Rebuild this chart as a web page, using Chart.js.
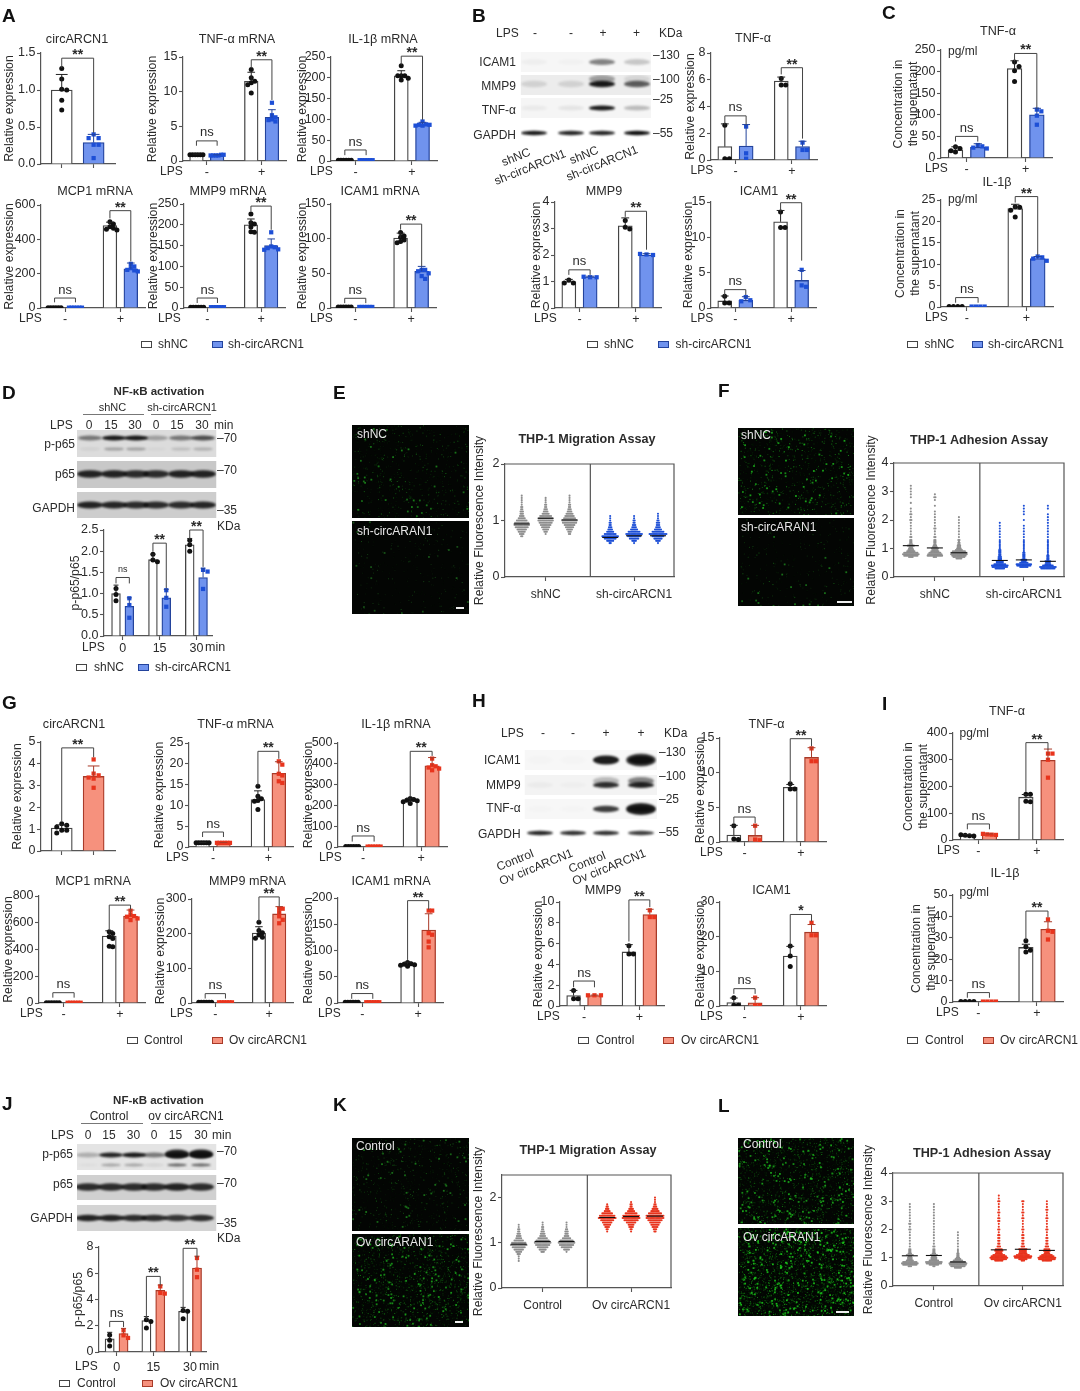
<!DOCTYPE html>
<html><head><meta charset="utf-8">
<style>
html,body{margin:0;padding:0;background:#fff;width:1080px;height:1391px;overflow:hidden}
#page{position:relative;width:1080px;height:1391px;overflow:hidden;font-family:"Liberation Sans",Arial,sans-serif;color:#2b2b2b;filter:blur(.4px)}
#page canvas{position:absolute}
.t{position:absolute;white-space:nowrap;line-height:1}
.box{position:absolute;box-sizing:border-box;border-width:1.3px;border-style:solid}
.rule{position:absolute;height:1px;background:#777}
</style>
<script src="https://cdn.jsdelivr.net/npm/chart.js@4/dist/chart.umd.min.js"></script>
</head><body><div id="page"><canvas id="bg" width="1080" height="1391" style="left:0;top:0"></canvas></div>
<script>
// ---------- series names ----------
const seriesKnock=['shNC','sh-circARCN1'];
const seriesOver=['Control','Ov circARCN1'];
const lpsSigns=['-','+'];
const timeLabels=['0','15','30'];

// ---------- values: means, error-bar tops, points, brackets ----------
// bracket = [bar a, bar b, top value, left leg end value, right leg end value, text]
// Panel A
const a1Means=[1.0,.29], a1Tops=[1.21,.40], a1Pts=[[1.29,1.15,1.01,1.0,.86,.73],[.40,.35,.35,.26,.26,.08]], a1Br=[[0,1,1.43,1.30,.42,'**']];
const a2Means=[.9,.8,11.5,6.3], a2Tops=[1,.9,12.8,7.4], a2Pts=[[.9,.9,.9,.9,.9,.9],[.8,.8,.8,.8,.9,.9],[13.2,12,11.5,11.3,11,9.8],[8.4,6.6,6.3,6,5.9,5.7]], a2Br=[[0,1,2.9,2.2,2.2,'ns'],[2,3,14.6,13.4,8.8,'**']];
const a3Means=[2,2,205,89], a3Tops=[2,2,217,93], a3Pts=[[2,2,2,2,2,2],[2,2,2,2,2,2],[229,205,205,205,199,195],[95,88,87,87,85,85]], a3Br=[[0,1,26.5,14,14,'ns'],[2,3,252,232,99,'**']];
const a4Means=[2,2,480,228], a4Tops=[2,2,500,262], a4Pts=[[2,2,2,2,2,2],[2,2,2,2,2,2],[503,490,474,465,459,455],[257,242,232,222,219,213]], a4Br=[[0,1,58,33,33,'ns'],[2,3,567,522,271,'**']];
const a5Means=[2,2,200,150], a5Tops=[2,2,214,166], a5Pts=[[2,2,2,2,2,2],[2,2,2,2,2,2],[226,205,202,195,183,182],[182,148,146,144,141,140]], a5Br=[[0,1,24,12,12,'ns'],[2,3,245,232,188,'**']];
const a6Means=[1.5,1.5,101,53], a6Tops=[1.5,1.5,108,60], a6Pts=[[1.5,1.5,1.5,1.5,1.5,1.5],[1.5,1.5,1.5,1.5,1.5,1.5],[109,104,102,98,96,94],[55,55,53,50,46,42]], a6Br=[[0,1,14,7,7,'ns'],[2,3,121,113,60,'**']];
// Panel B
const b1Means=[1,1.05,5.9,1], b1Tops=[2.7,2.65,6.2,1.4], b1Pts=[[2.6,.1,.1],[2.5,.5,.1],[6.1,5.6,5.6],[1.3,.75,.75]], b1Br=[[0,1,3.3,2.65,2.65,'ns'],[2,3,6.9,6.4,1.6,'**']];
const b2Means=[1,1.18,3.1,2], b2Tops=[1.08,1.2,3.4,2.05], b2Pts=[[1.06,.94,.94],[1.18,1.16,1.16],[3.3,3.05,2.98],[2.04,2.02,2]], b2Br=[[0,1,1.44,1.25,1.25,'ns'],[2,3,3.65,3.44,2.2,'**']];
const b3Means=[1,1.1,12.2,3.9], b3Tops=[1.7,1.6,13.8,5.3], b3Pts=[[1.65,.7,.7],[1.55,1.1,.95],[13.6,11.4,11.4],[5.4,3.2,3]], b3Br=[[0,1,2.6,1.8,1.8,'ns'],[2,3,14.9,13.8,6.7,'**']];
// Panel C
const c1Means=[19,25,207,100], c1Tops=[26,33,225,115], c1Pts=[[26,22,17,14],[30,27,24,22],[222,212,202,177],[112,108,98,77]], c1Br=[[0,1,50,38,38,'ns'],[2,3,242,225,115,'**']];
const c2Means=[.1,.1,23,11.3], c2Tops=[.1,.1,24,11.8], c2Pts=[[.1,.1,.1,.1],[.1,.1,.1,.1],[23.4,23.3,22.6,21],[11.8,11.6,11.3,10.8]], c2Br=[[0,1,2.2,1,1,'ns'],[2,3,25.8,24.4,12.1,'**']];
// Panel D
const dMeans=[1,.7,1.8,.9,2.15,1.38], dTops=[1.2,.9,1.93,1.1,2.3,1.6], dPts=[[1.12,.98,.83],[.89,.73,.43],[1.93,1.79,1.75],[1.08,.9,.69],[2.26,2.15,2],[1.56,1.52,1.11]], dBr=[[0,1,1.38,1.24,1.24,'ns'],[2,3,2.19,1.99,1.12,'**'],[4,5,2.5,2.3,1.63,'**']];
// Panel G
const g1Means=[1.05,3.42], g1Tops=[1.2,3.9], g1Pts=[[1.25,1.18,1.1,.95,.95,.82],[4.2,3.55,3.47,3.37,3.32,2.9]], g1Br=[[0,1,4.73,1.35,4.3,'**']];
const g2Means=[1,1,11.4,17.7], g2Tops=[1.1,1.1,13.5,20.5], g2Pts=[[1,1,1,1,1,1],[1,1,1,1,1,1],[14.6,12.2,11.6,11.2,11,9],[20.6,19.8,17.6,17.2,15.8,15.4]], g2Br=[[0,1,3.6,2.4,2.4,'ns'],[2,3,23,14.8,21.2,'**']];
const g3Means=[2,2,224,390], g3Tops=[2,2,235,430], g3Pts=[[2,2,2,2,2,2],[2,2,2,2,2,2],[233,228,225,222,217,209],[425,393,388,382,377,369]], g3Br=[[0,1,53,26,26,'ns'],[2,3,460,241,438,'**']];
const g4Means=[2,2,500,650], g4Tops=[2,2,540,695], g4Pts=[[2,2,2,2,2,2],[2,2,2,2,2,2],[532,520,495,482,425,420],[690,657,650,645,632,620]], g4Br=[[0,1,77,40,40,'ns'],[2,3,732,550,700,'**']];
const g5Means=[2,2,202,257], g5Tops=[2,2,220,278], g5Pts=[[2,2,2,2,2,2],[2,2,2,2,2,2],[233,209,203,196,190,187],[272,272,261,250,240,230]], g5Br=[[0,1,27,13,13,'ns'],[2,3,306,235,279,'**']];
const g6Means=[1.5,1.5,74,139], g6Tops=[1.5,1.5,78,170], g6Pts=[[1.5,1.5,1.5,1.5,1.5,1.5],[1.5,1.5,1.5,1.5,1.5,1.5],[77,75,74,73,72,70],[176,176,133,130,117,106]], g6Br=[[0,1,18,8,8,'ns'],[2,3,195,82,178,'**']];
// Panel H
const h1Means=[1,.95,7.9,12.2], h1Tops=[2.4,2.4,8.3,13.6], h1Pts=[[2.35,.45,.35],[2.35,.35,.25],[8.4,7.65,7.65],[13.5,11.65,11.65]], h1Br=[[0,1,3.6,2.7,2.7,'ns'],[2,3,14.9,8.5,13.8,'**']];
const h2Means=[1,1,5.2,8.8], h2Tops=[1.5,1.05,5.9,9.3], h2Pts=[[1.5,.7,.7],[1.03,1.03,1.03],[5.8,5,5],[9.2,8.55,8.55]], h2Br=[[0,1,2.4,1.8,1.8,'ns'],[2,3,10.2,6.2,9.5,'**']];
const h3Means=[1,.9,14.4,21.3], h3Tops=[2.3,2.4,17.2,23.5], h3Pts=[[2.4,.2,.2],[2.4,.2,.2],[17.3,14.4,11.4],[24,20.4,20.4]], h3Br=[[0,1,5,3.5,3.5,'ns'],[2,3,26.4,17.7,24.4,'*']];
// Panel I
const i1Means=[17,20,160,298], i1Tops=[20,23,170,340], i1Pts=[[20,18,16,15],[23,21,20,19],[171,171,145,143],[323,323,300,233]], i1Br=[[0,1,60,40,40,'ns'],[2,3,364,180,338,'**']];
const i2Means=[.2,.2,25.5,34], i2Tops=[.2,.2,27,37.5], i2Pts=[[.2,.2,.2,.2],[.2,.2,.2,.2],[28.6,25.8,24.2,23.4],[38.6,33.3,32.8,29.2]], i2Br=[[0,1,4.4,2,2,'ns'],[2,3,42.5,29,39.5,'**']];
// Panel J
const jMeans=[1,1.4,2.4,4.7,3.1,6.4], jTops=[1.5,1.8,2.7,5.1,3.4,7.3], jPts=[[1.3,.9,.45],[1.65,1.27,1.07],[2.46,2.33,1.83],[5,4.5,4.45],[3.17,3.1,2.54],[7.16,6.27,5.7]], jBr=[[0,1,2.33,1.9,1.9,'ns'],[2,3,5.76,2.54,5.1,'**'],[4,5,7.9,3.3,7.2,'**']];

// ---------- dot plots: value level and how many dots sit on it, read by eye ----------
const eLevels=[.56,.60,.64,.68,.72,.76,.80,.84,.88,.92,.96,1.00,1.04,1.08,1.12,1.16,1.20,1.24,1.28,1.32,1.36,1.40,1.44];
const eCtl1=[0,0,0,0,2,4,6,8,11,13,12,9,6,4,3,3,2,2,1,1,1,1,1];
const eCtl2=[0,0,0,0,0,1,3,5,7,9,11,13,12,10,6,4,3,2,2,1,1,1,0];
const eCtl3=[0,0,0,0,0,2,3,5,7,9,12,13,10,8,6,4,3,2,2,1,1,1,1];
const eSh1=[0,2,6,10,14,10,6,4,3,2,2,1,1,1];
const eSh2=[0,1,4,8,11,14,10,6,4,3,2,2,1,1];
const eSh3=[0,1,4,7,10,15,10,6,4,3,3,2,1,1,1];
const eMeanLines=[.94,1.04,1.01,.70,.73,.73];

const wideLevels=[.30,.35,.40,.45,.50,.55,.60,.65,.70,.75,.80,.85,.90,.95,1.00,1.05,1.10,1.15,1.20,1.25,1.30,1.4,1.5,1.6,1.7,1.8,1.9,2.0,2.1,2.2,2.3,2.4,2.5,2.6,2.7,2.8,2.9,3.0,3.1,3.2];
const fCtl1=[0,0,0,0,0,0,0,0,4,12,14,12,7,5,4,3,6,3,2,2,2,2,1,1,1,1,1,2,1,2,1,1,0,1,0,1,1,1,1,1];
const fCtl2=[0,0,0,0,0,0,0,0,3,13,12,10,7,5,6,4,3,2,2,2,2,2,1,1,2,1,1,1,1,1,1,0,1,0,1,2,1];
const fCtl3=[0,0,0,0,0,0,0,5,10,12,14,14,11,6,4,3,3,2,2,1,2,1,1,1,1,1,1,1,1];
const fSh1=[8,13,14,10,6,6,3,3,3,2,2,2,2,2,1,1,1,1,1,1,1,1,1,1,1,1,1];
const fSh2=[0,7,12,13,7,4,5,2,2,2,2,2,1,1,1,1,1,1,1,1,1,1,1,1,1,1,0,1,0,1,1,1,1];
const fSh3=[12,14,9,5,4,5,2,2,2,2,1,1,1,1,1,1,1,1,1,1,1,1,1,1,1,1,1,1,1,1,0,1,1];
const fMeanLines=[1.1,1.02,.85,.58,.6,.55];

const kLevels=[.60,.65,.70,.75,.80,.85,.90,.95,1.00,1.05,1.10,1.15,1.20,1.25,1.30,1.35,1.40,1.45,1.50,1.55,1.60,1.65,1.70,1.75,1.80,1.85,1.90,1.95,2.00];
const kCtl1=[1,1,1,3,5,8,11,14,12,8,5,4,3,2,2,1,1];
const kCtl2=[0,0,0,0,3,6,9,12,14,11,8,5,4,3,2,2,1,1];
const kCtl3=[0,0,0,0,1,5,9,12,14,11,7,4,3,3,2,1,1,1];
const kOv1=[0,0,0,0,0,0,0,0,0,0,0,0,0,1,2,4,6,8,11,15,13,9,5,3,2,1];
const kOv2=[0,0,0,0,0,0,0,0,0,0,0,0,0,1,2,4,5,8,12,15,14,10,6,4,2,2,1];
const kOv3=[0,0,0,0,0,0,0,0,0,0,0,0,0,2,3,5,7,9,12,15,15,11,7,5,3,2,1,1,1];
const kMeanLines=[.97,1.03,1.03,1.56,1.58,1.59];

const lCtl1=[0,0,0,0,0,0,0,0,3,12,14,12,6,4,4,3,6,3,2,2,2,1,1,1,1,1,1,2,1,2,1,1,1,1,1,1,1];
const lCtl2=[0,0,0,0,0,0,0,0,2,8,13,14,8,5,5,4,6,3,2,2,2,2,1,1,1,1,1,1,1,1,1,1,1,1,1,1,1];
const lCtl3=[0,0,0,0,0,0,0,6,12,14,15,12,8,5,3,2,2,2,1,1,1,1,1,1,1,1,1];
const lOv1=[0,0,0,0,0,0,0,0,0,0,0,0,7,13,15,13,10,6,5,7,6,3,2,2,2,2,1,2,1,1,2,2,1,2,1,1,1,2,1,1];
const lOv2=[0,0,0,0,0,0,0,0,0,0,0,0,3,7,14,15,11,7,6,6,7,3,2,2,2,2,1,2,1,1,1,2,1,2,1,1,1,2];
const lOv3=[0,0,0,0,0,0,0,0,0,0,0,0,8,14,15,12,9,5,4,6,5,3,2,2,2,1,1,2,1,1,1,2,1,1,2,1,1,1];
const lMeanLines=[1.07,1.08,.85,1.28,1.3,1.26];

// ---------- look ----------
const INK='#2b2b2b', AXIS='#555';
const KNOCK={fill:'#7093ee',edge:'#23439c',dot:'#1d4fd6'};
const OVER ={fill:'#f6917d',edge:'#a93a28',dot:'#e8341d'};
const LAYOUT={2:{xs:[1,2],min:.35,max:2.67},4:{xs:[1,2,3.65,4.65],min:.35,max:5.33},
 d:{xs:[1,2,3.77,4.77,6.53,7.53],min:.1,max:8.2,ticks:[1.5,4.27,7.03]},
 j:{xs:[1,2,3.65,4.65,6.3,7.3],min:.23,max:7.95,ticks:[1.5,4.15,6.8]}};
const DOT_XS=[1,2,3,4.7,5.7,6.7];
Chart.defaults.font.family='"Liberation Sans",Arial,sans-serif';
Chart.defaults.color=INK;
Chart.defaults.animation=false;

const page=document.getElementById('page');
function T(x,y,s,o={}){const e=document.createElement('span');e.className='t';e.textContent=s;
 const ax=o.a==='r'?'-100%':o.a==='c'?'-50%':'0';
 e.style.cssText=`left:${x}px;top:${y}px;font-size:${o.size||12}px;font-weight:${o.bold?'bold':'normal'};color:${o.color||INK};transform:translate(${ax},-50%) ${o.rot?`rotate(${o.rot}deg)`:''}`;
 page.appendChild(e);}
function legend(y,bx,tx,rx,rtx,names,c){
 for(const [x,f,ed] of [[bx,'#fff','#444'],[rx,c.fill,c.edge]]){const b=document.createElement('div');b.className='box';
  b.style.cssText=`left:${x}px;top:${y-3}px;width:11px;height:7px;background:${f};border-color:${ed}`;page.appendChild(b);}
 T(tx,y,names[0]);T(rtx,y,names[1]);}
function rule(x0,x1,y){const r=document.createElement('div');r.className='rule';r.style.cssText=`left:${x0}px;top:${y}px;width:${x1-x0}px`;page.appendChild(r);}

function swarmOffsets(vals,pxPerUnit,gap){
 const span=(Math.max(...vals)-Math.min(...vals))*pxPerUnit;
 if(span<3)return vals.map((v,i)=>(i-(vals.length-1)/2)*13/(vals.length-1));
 const placed=[];return vals.map(v=>{const py=v*pxPerUnit;let k=0,off=0;
  for(;;){off=k===0?0:(k%2?1:-1)*Math.ceil(k/2)*gap;
   if(placed.every(p=>Math.hypot(p[0]-off,p[1]-py)>=gap-1e-6))break;k++;}
  placed.push([off,py]);return off;});}

function makeCanvas(L,T0,R,B){const c=document.createElement('canvas');c.width=R-L;c.height=B-T0;
 c.style.cssText=`left:${L}px;top:${T0}px;width:${R-L}px;height:${B-T0}px`;page.appendChild(c);return c;}

// the title block is centred on the whole canvas, which is laid out around the title's centre
const titleSpan={id:'titleSpan',afterLayout(ch){const tb=ch.titleBlock;if(tb&&tb.options.display){tb.left=0;tb.right=ch.width;}}};

function frameOptions(p,xCfg,yCfg){
 const [x0,y0,x1,y1]=p.rect.map(Math.round);const BM=p.bottom||28;const HEAD=22;
 const L=Math.round(p.left)-1;
 let Tp,R,title={display:false};
 if(p.title){Tp=Math.round(p.title[1]-7.5)-HEAD;R=Math.max(Math.round(2*p.title[0]-L),x1+2);
  title={display:true,text:p.title[2],fullSize:true,align:'center',color:INK,font:{size:12.6,weight:p.titleBold?'bold':'normal',lineHeight:1.2},padding:{top:HEAD,bottom:y0-Tp-HEAD-15.12}};}
 else{Tp=y0-22;R=x1+30;}
 return {cv:makeCanvas(L,Tp,R,y1+BM),x0,y0,x1,y1,opts:{responsive:false,maintainAspectRatio:false,animation:false,events:[],
  layout:{padding:{left:0,top:p.title?0:y0-Tp,right:R-x1,bottom:0}},
  plugins:{legend:{display:false},tooltip:{enabled:false},title},
  scales:{
   x:Object.assign({type:'linear',offset:false,border:{color:AXIS,width:1.2},
     grid:{offset:false,drawOnChartArea:false,tickLength:4,tickColor:AXIS,tickWidth:1.1},
     afterFit:s=>{s.height=BM;}},xCfg),
   y:Object.assign({type:'linear',min:0,max:p.ymax,border:{color:AXIS,width:1.2},
     grid:{drawOnChartArea:false,tickLength:4,tickColor:AXIS,tickWidth:1.1},
     title:{display:true,text:p.ytitle,color:INK,font:{size:12.2,lineHeight:1.25},padding:0},
     ticks:{stepSize:p.step,padding:1.5,color:INK,font:{size:12.5},autoSkip:false,includeBounds:false,
       callback:v=>p.dec?Number(v).toFixed(p.dec):String(v)},
     afterBuildTicks:s=>{s.ticks=s.ticks.filter(t=>Math.abs(t.value/p.step-Math.round(t.value/p.step))<1e-6);},
     afterFit:s=>{s.width=x0-L;}},yCfg)
  }}};
}

function barPanel(p){
 const lay=LAYOUT[p.layout||p.means.length],c=p.color,xPad=p.xPad||0;
 const tickVals=lay.ticks||(p.means.length===2?lay.xs:[1.5,4.15]);
 const tickText=p.tickText||(p.means.length===2?['','']:lpsSigns);
 const f=frameOptions(p,{min:lay.min,max:lay.max,
   afterBuildTicks:s=>{s.ticks=tickVals.map(v=>({value:v}));},
   ticks:{autoSkip:false,maxRotation:0,padding:xPad,color:INK,font:{size:12.5},callback:(v,i)=>tickText[i]}},{});
 const pxX=(f.x1-f.x0)/(lay.max-lay.min),pxY=(f.y1-f.y0)/p.ymax;
 const thick=pxX*(p.barFrac||.66);
 const bars=k=>lay.xs.map((x,i)=>({x,y:p.means[i],i})).filter(o=>o.i%2===k);
 const dots=k=>{const out=[];p.pts.forEach((vals,i)=>{if(i%2!==k)return;
    const off=swarmOffsets(vals,pxY,p.gap||3.5);vals.forEach((v,j)=>out.push({x:lay.xs[i]+off[j]/pxX,y:v}));});return out;};
 const base={type:'bar',grouped:false,barThickness:thick,borderWidth:1.3,order:2};
 const ann={id:'ann',afterDatasetsDraw(ch){
   const g=ch.ctx,X=ch.scales.x,Y=ch.scales.y;g.save();g.strokeStyle='#333';g.lineWidth=1;g.fillStyle=INK;
   p.means.forEach((m,i)=>{const t=p.tops[i];if(t<=m)return;const x=X.getPixelForValue(lay.xs[i]);
     g.strokeStyle=i%2?c.edge:'#222';g.beginPath();g.moveTo(x,Y.getPixelForValue(m));g.lineTo(x,Y.getPixelForValue(t));
     g.moveTo(x-thick*.28,Y.getPixelForValue(t));g.lineTo(x+thick*.28,Y.getPixelForValue(t));g.stroke();});
   g.strokeStyle='#444';
   p.brackets.forEach(([a,b,top,la,lb,txt])=>{const xa=X.getPixelForValue(lay.xs[a]),xb=X.getPixelForValue(lay.xs[b]),yt=Y.getPixelForValue(top);
     g.beginPath();g.moveTo(xa,Y.getPixelForValue(la));g.lineTo(xa,yt);g.lineTo(xb,yt);g.lineTo(xb,Y.getPixelForValue(lb));g.stroke();
     g.textAlign='center';
     if(txt==='ns'){g.font=`${p.nsSize||13}px "Liberation Sans"`;g.textBaseline='middle';g.fillText('ns',(xa+xb)/2,yt-8);}
     else{g.font='bold 14px "Liberation Sans"';g.textBaseline='alphabetic';g.fillText(txt,(xa+xb)/2,yt+1);}});
   if(p.lps){g.font='12px "Liberation Sans"';g.textAlign='left';g.textBaseline='middle';g.fillText('LPS',p.lps-ch.canvas.offsetLeft,Y.bottom+11+xPad);}
   if(p.minAt){g.font='12.5px "Liberation Sans"';g.textAlign='left';g.textBaseline='middle';g.fillText('min',p.minAt-ch.canvas.offsetLeft,Y.bottom+11+xPad);}
   g.restore();}};
 new Chart(f.cv,{type:'bar',data:{datasets:[
   {type:'scatter',label:p.names[0]+' points',data:dots(0),order:0,pointRadius:p.r||2.5,pointBackgroundColor:'#111',pointBorderWidth:0},
   {type:'scatter',label:p.names[1]+' points',data:dots(1),order:0,pointStyle:'rect',pointRadius:(p.r||2.5)*1.2,pointBackgroundColor:c.dot,pointBorderWidth:0},
   Object.assign({label:p.names[0],data:bars(0),backgroundColor:'#fff',borderColor:'#444'},base),
   Object.assign({label:p.names[1],data:bars(1),backgroundColor:c.fill,borderColor:c.edge},base)
 ]},options:f.opts,plugins:[ann,titleSpan]});
}

function dotPanel(p){
 const xmin=.3,xmax=7.37,split=3.87,tv=[2,5.7];
 const f=frameOptions(Object.assign({dec:0,bottom:30,titleBold:true},p),{min:xmin,max:xmax,
   afterBuildTicks:s=>{s.ticks=tv.map(v=>({value:v}));},
   ticks:{autoSkip:false,maxRotation:0,padding:6.5,color:INK,font:{size:12},callback:(v,i)=>p.names[i]}},{});
 const pxX=(f.x1-f.x0)/(xmax-xmin);
 const ds=p.swarms.map((counts,i)=>{const pts=[];counts.forEach((n,l)=>{for(let j=0;j<n;j++)
    pts.push({x:DOT_XS[i]+(j-(n-1)/2)*1.2/pxX,y:p.levels[l]});});
   return {label:p.names[i<3?0:1]+' '+(i%3+1),data:pts,pointRadius:1.05,pointBorderWidth:0,pointBackgroundColor:i<3?'#8e8e8e':p.dot};});
 const ann={id:'ann',afterDatasetsDraw(ch){const g=ch.ctx,X=ch.scales.x,Y=ch.scales.y,a=ch.chartArea;g.save();
   g.strokeStyle='#111';g.lineWidth=1.1;
   p.means.forEach((m,i)=>{const x=X.getPixelForValue(DOT_XS[i]),y=Y.getPixelForValue(m);g.beginPath();g.moveTo(x-8,y);g.lineTo(x+8,y);g.stroke();});
   g.strokeStyle=AXIS;g.lineWidth=1.2;g.beginPath();g.moveTo(a.left,a.top);g.lineTo(a.right,a.top);g.lineTo(a.right,a.bottom);
   const sx=X.getPixelForValue(split);g.moveTo(sx,a.top);g.lineTo(sx,a.bottom);g.stroke();g.restore();}};
 new Chart(f.cv,{type:'scatter',data:{datasets:ds},options:f.opts,plugins:[ann,titleSpan]});
}

// ---------- bar panels ----------
const RE='Relative expression', CS=['Concentration in','the supernatant'];
const K={color:KNOCK,names:seriesKnock}, O={color:OVER,names:seriesOver};
const bp=(base,rect,left,title,ymax,step,ytitle,means,tops,pts,brackets,lps,extra)=>barPanel(Object.assign({rect,left,title,ymax,step,ytitle,means,tops,pts,brackets,lps},base,extra||{}));
bp(K,[41.3,53.3,115,164.3],3,[77,39,'circARCN1'],1.5,.5,RE,a1Means,a1Tops,a1Pts,a1Br,null,{dec:1,gap:5});
bp(K,[183.3,57.3,286,160.7],146,[237,39,'TNF-α mRNA'],15,5,RE,a2Means,a2Tops,a2Pts,a2Br,160);
bp(K,[331,57.3,437,161],296,[383,39,'IL-1β mRNA'],250,50,RE,a3Means,a3Tops,a3Pts,a3Br,310);
bp(K,[41.3,205,145,308.3],3,[95,191,'MCP1 mRNA'],600,200,RE,a4Means,a4Tops,a4Pts,a4Br,19);
bp(K,[184,204,285,308],147,[228,191,'MMP9 mRNA'],250,50,RE,a5Means,a5Tops,a5Pts,a5Br,158);
bp(K,[331,204,436,308],296,[380,191,'ICAM1 mRNA'],150,50,RE,a6Means,a6Tops,a6Pts,a6Br,310);
bp(K,[710.5,53,817,160],684,[753,38,'TNF-α'],8,2,RE,b1Means,b1Tops,b1Pts,b1Br,690.6,{gap:4.5});
bp(K,[554.8,201.7,660.7,308.3],530.3,[604,191,'MMP9'],4,1,RE,b2Means,b2Tops,b2Pts,b2Br,534,{gap:4.5});
bp(K,[710.5,201.7,816.3,307.7],682,[759,191,'ICAM1'],15,5,RE,b3Means,b3Tops,b3Pts,b3Br,690.6,{gap:4.5});
bp(K,[940.8,50,1051.7,158],892,[998,31,'TNF-α'],250,50,CS,c1Means,c1Tops,c1Pts,c1Br,925,{gap:4.5});
bp(K,[940.8,200,1052.5,306.7],894,[997,182.7,'IL-1β'],25,5,CS,c2Means,c2Tops,c2Pts,c2Br,925,{gap:4.5});
bp(K,[103.6,530,212,636],69,null,2.5,.5,'p-p65/p65',dMeans,dTops,dPts,dBr,82,{dec:1,layout:'d',tickText:timeLabels,minAt:205,nsSize:9,gap:4.5,xPad:1});
bp(O,[41.3,741.7,115,851],11,[74,724,'circARCN1'],5,1,RE,g1Means,g1Tops,g1Pts,g1Br,null,{gap:5});
bp(O,[189,742.7,293,846.7],153,[235.7,724,'TNF-α mRNA'],25,5,RE,g2Means,g2Tops,g2Pts,g2Br,166);
bp(O,[338,742.7,446.7,847],301.7,[396,724,'IL-1β mRNA'],500,100,RE,g3Means,g3Tops,g3Pts,g3Br,319);
bp(O,[39.3,896,145,1002.7],1.7,[93,881,'MCP1 mRNA'],800,200,RE,g4Means,g4Tops,g4Pts,g4Br,20);
bp(O,[191.7,899,293,1002.7],154,[247.7,881,'MMP9 mRNA'],300,100,RE,g5Means,g5Tops,g5Pts,g5Br,170);
bp(O,[338,898,443,1002.7],301.7,[391,881,'ICAM1 mRNA'],200,50,RE,g6Means,g6Tops,g6Pts,g6Br,318);
bp(O,[719.8,738,826,842],693.7,[766.5,724,'TNF-α'],15,5,RE,h1Means,h1Tops,h1Pts,h1Br,700,{gap:4.5});
bp(O,[560,901.7,664,1005.7],532,[603,890,'MMP9'],10,2,RE,h2Means,h2Tops,h2Pts,h2Br,537,{gap:4.5});
bp(O,[719.8,901.7,826,1005.7],693.7,[771.6,890,'ICAM1'],30,10,RE,h3Means,h3Tops,h3Pts,h3Br,700,{gap:4.5});
bp(O,[952.5,732.7,1063.4,840],902,[1007,711.7,'TNF-α'],400,100,CS,i1Means,i1Tops,i1Pts,i1Br,937,{gap:4.5});
bp(O,[952.5,895,1063.4,1001.7],909.7,[1005,873,'IL-1β'],50,10,CS,i2Means,i2Tops,i2Pts,i2Br,936,{gap:4.5});
bp(O,[99,1246.7,206,1351.7],72,null,8,2,'p-p65/p65',jMeans,jTops,jPts,jBr,75,{layout:'j',tickText:timeLabels,minAt:199,gap:4.5,xPad:4});

// ---------- dot plots ----------
const RF='Relative Fluorescence Intensity';
dotPanel({rect:[504.5,464,674,577],left:473,title:[587,439,'THP-1 Migration Assay'],ymax:2,step:1,ytitle:RF,names:seriesKnock,dot:KNOCK.dot,levels:eLevels,swarms:[eCtl1,eCtl2,eCtl3,eSh1,eSh2,eSh3],means:eMeanLines});
dotPanel({rect:[894,463,1064,577],left:865,title:[979,440,'THP-1 Adhesion Assay'],ymax:4,step:1,ytitle:RF,names:seriesKnock,dot:KNOCK.dot,levels:wideLevels,swarms:[fCtl1,fCtl2,fCtl3,fSh1,fSh2,fSh3],means:fMeanLines});
dotPanel({rect:[502,1175,671,1287.7],left:472,title:[588,1150.7,'THP-1 Migration Assay'],ymax:2.5,step:1,ytitle:RF,names:seriesOver,dot:OVER.dot,levels:kLevels,swarms:[kCtl1,kCtl2,kCtl3,kOv1,kOv2,kOv3],means:kMeanLines});
dotPanel({rect:[893,1173,1063,1286],left:862,title:[982,1153,'THP-1 Adhesion Assay'],ymax:4,step:1,ytitle:RF,names:seriesOver,dot:OVER.dot,levels:wideLevels,swarms:[lCtl1,lCtl2,lCtl3,lOv1,lOv2,lOv3],means:lMeanLines});

// ---------- legends ----------
legend(344,141,158,212,228,seriesKnock,KNOCK);
legend(344,587,604,657.5,675.5,seriesKnock,KNOCK);
legend(344,906.6,924.5,972,988,seriesKnock,KNOCK);
legend(667,76,94,138,155,seriesKnock,KNOCK);
legend(1040,127,144,212,229,seriesOver,OVER);
legend(1040,578,595.7,663.4,681,seriesOver,OVER);
legend(1040,906.6,925,983,1000,seriesOver,OVER);
legend(1383,59,77,142,160,seriesOver,OVER);

// ---------- photographs: western blots and micrographs are pictures, not data.
// They are painted as plain backdrop; the speckle below is only a deterministic texture.
const bg=document.getElementById('bg').getContext('2d');
function hash(n){let x=Math.sin(n*12.9898)*43758.5453;return x-Math.floor(x);}
function blot(x0,x1,y0,y1,back,lanes,bands){bg.save();bg.beginPath();bg.rect(x0,y0,x1-x0,y1-y0);bg.clip();
 if(back){bg.fillStyle=back;bg.fillRect(x0,y0,x1-x0,y1-y0);}
 bg.filter='blur(1.3px)';
 bands.forEach(b=>b.v.forEach((a,i)=>{bg.fillStyle=`rgba(15,15,15,${a})`;bg.beginPath();bg.ellipse(lanes[i],b.y,(b.w||13),b.h,0,0,7);bg.fill();}));
 bg.restore();}
function micro(x0,y0,x1,y1,n,lum,seed){bg.save();bg.fillStyle='#030503';bg.fillRect(x0,y0,x1-x0,y1-y0);
 bg.beginPath();bg.rect(x0,y0,x1-x0,y1-y0);bg.clip();
 for(let i=0;i<n;i++){const x=x0+hash(seed+i*2.1)*(x1-x0),y=y0+hash(seed+i*3.7+.5)*(y1-y0),b=hash(seed+i*5.3+.9);
  bg.fillStyle=`rgba(${30*b|0},${(60+150*b*b)*lum|0},${30*b|0},${.25+.6*b*b})`;const s=b>.93?1.8:1;bg.fillRect(x,y,s,s);}
 bg.restore();}
function scaleBar(x0,x1,y){bg.fillStyle='#eee';bg.fillRect(x0,y-1,x1-x0,2);}

const bLanes=[534,571,602,637];
blot(520.6,651,52,72,'#f6f6f6',bLanes,[{y:62,h:3,v:[.03,.02,.5,.2]}]);
blot(520.6,651,75,95,'#ececec',bLanes,[{y:84,h:3.2,v:[.12,.12,.95,.65]},{y:79,h:4,v:[0,0,.35,.1]}]);
blot(520.6,651,98,118,'#f5f5f5',bLanes,[{y:108,h:2.5,v:[.05,.07,.95,.25]}]);
blot(520.6,651,127,139,null,bLanes,[{y:133,h:2.2,v:[.95,.9,.9,1]}]);
const hLanes=[540,573,606,641];
blot(524.5,657,750,770,'#f7f7f7',hLanes,[{y:760,h:4.5,v:[.01,.01,.95,1]},{y:760,h:6.5,w:15,v:[0,0,0,.7]}]);
blot(524.5,657,775,795,'#f3f3f3',hLanes,[{y:785,h:3,v:[.03,.02,.85,.9]},{y:781,h:4,v:[0,0,.25,.5]}]);
blot(524.5,657,799,819,'#f7f7f7',hLanes,[{y:809,h:3.2,v:[.01,.01,.8,1]},{y:809,h:6,w:15,v:[0,0,0,.9]}]);
blot(524.5,657,827,840,null,hLanes,[{y:833,h:2.2,v:[.9,.85,.85,.8]}]);
const dLanes=[90,114,136,156,181,203];
blot(77,216.5,430,457,'#dcdcdc',dLanes,[{y:438,h:2.5,w:12,v:[.5,.95,.95,.3,.5,.7]},{y:449,h:1.6,w:10,v:[.06,.3,.3,.03,.15,.22]}]);
blot(77,216.5,461,488,'#c8c8c8',dLanes,[{y:474,h:3.8,w:13,v:[.9,.9,.85,.85,.9,.9]}]);
blot(77,216.5,492,518,'#cdcdcd',dLanes,[{y:505,h:3.5,w:13,v:[.9,.88,.85,.85,.85,.88]}]);
const jLanes=[88,111,134,154,177,201];
blot(77,216.5,1144,1170,'#e4e4e4',jLanes,[{y:1155,h:2.6,w:12,v:[.25,.9,.95,.5,1,1]},{y:1154,h:4.5,w:12,v:[0,0,0,0,.9,.95]},{y:1165,h:1.5,w:10,v:[.03,.3,.3,.08,.6,.6]}]);
blot(77,216.5,1175,1200,'#d0d0d0',jLanes,[{y:1187,h:3.8,w:13,v:[.85,.85,.85,.85,.9,.85]}]);
blot(77,216.5,1205,1231,'#d4d4d4',jLanes,[{y:1218,h:3.2,w:13,v:[.9,.9,.85,.85,.8,.85]}]);

micro(352,425,469,518,700,.7,1);micro(352,521,469,614,300,.5,2);scaleBar(456,464,608);
micro(738,428,854,515,1000,.9,3);micro(738,518,854,606,320,.65,4);scaleBar(837,852,602);
micro(352,1138,469,1231,800,.65,5);micro(352,1234,469,1327,1800,.85,6);scaleBar(455,463,1322);
micro(738,1138,854,1224,1900,.9,7);micro(738,1228,854,1316,3200,1.05,8);scaleBar(836,849,1312);

// ---------- free text ----------
[['A',2,15],['B',472,15],['C',882,12],['D',2,392],['E',333,392],['F',718,390],['G',2,702],['H',472,700],['I',882,703],['J',2,1103],['K',333,1104],['L',718,1105]]
 .forEach(([s,x,y])=>T(x,y,s,{size:19,bold:true,color:'#111'}));
// B blot
T(496,33,'LPS');[['-',535],['-',571],['+',603],['+',636.5]].forEach(([s,x])=>T(x,33,s,{a:'c'}));T(659,33,'KDa');
[['ICAM1',62],['MMP9',86],['TNF-α',110],['GAPDH',135]].forEach(([s,y])=>T(516,y,s,{a:'r'}));
[['–130',55],['–100',79],['–25',99],['–55',133]].forEach(([s,y])=>T(653,y,s));
[['shNC',516,157],['sh-circARCN1',530,167],['shNC',584,155],['sh-circARCN1',602,163]].forEach(([s,x,y])=>T(x,y,s,{a:'c',rot:-22}));
T(948,51,'pg/ml');T(948,199,'pg/ml');
// D blot
T(159,392,'NF-κB activation',{a:'c',bold:true,size:11.5});T(112.5,407,'shNC',{a:'c',size:11});T(182,407,'sh-circARCN1',{a:'c',size:11});rule(82.6,143.8,413.5);rule(151,211,413.5);
T(50,425,'LPS');[89,111,135,156,177,202].forEach((x,i)=>T(x,425,timeLabels[i%3],{a:'c'}));T(214,425,'min');
[['p-p65',444],['p65',474],['GAPDH',508]].forEach(([s,y])=>T(75,y,s,{a:'r'}));
[['–70',438],['–70',470],['–35',510]].forEach(([s,y])=>T(217,y,s));T(217,526,'KDa');
// H blot
T(501,733,'LPS');[['-',543],['-',573],['+',606],['+',641]].forEach(([s,x])=>T(x,733,s,{a:'c'}));T(664,733,'KDa');
[['ICAM1',760],['MMP9',785],['TNF-α',808],['GAPDH',834]].forEach(([s,y])=>T(520.6,y,s,{a:'r'}));
[['–130',752],['–100',776],['–25',799],['–55',832]].forEach(([s,y])=>T(659,y,s));
[['Control',515,860],['Ov circARCN1',536,867],['Control',587,862],['Ov circARCN1',609,867]].forEach(([s,x,y])=>T(x,y,s,{a:'c',rot:-22}));
T(959.5,733,'pg/ml');T(959.5,891.7,'pg/ml');
// J blot
T(158.5,1101,'NF-κB activation',{a:'c',bold:true,size:11.5});T(109,1116,'Control',{a:'c'});T(186,1116,'ov circARCN1',{a:'c'});rule(81,143,1122.5);rule(151,211,1122.5);
T(51,1135,'LPS');[88,109,133.5,154,175.5,201].forEach((x,i)=>T(x,1135,timeLabels[i%3],{a:'c'}));T(212,1135,'min');
[['p-p65',1154],['p65',1184],['GAPDH',1218]].forEach(([s,y])=>T(73,y,s,{a:'r'}));
[['–70',1151],['–70',1183],['–35',1223]].forEach(([s,y])=>T(217,y,s));T(217,1238,'KDa');
// micrograph captions
[['shNC',357,434],['sh-circARAN1',357,531],['shNC',741,435],['sh-circARAN1',741,527],['Control',356,1146],['Ov circARAN1',356,1242],['Control',743,1144],['Ov circARAN1',743,1237]]
 .forEach(([s,x,y])=>T(x,y,s,{color:'#e6e6e6'}));
</script></body></html>
